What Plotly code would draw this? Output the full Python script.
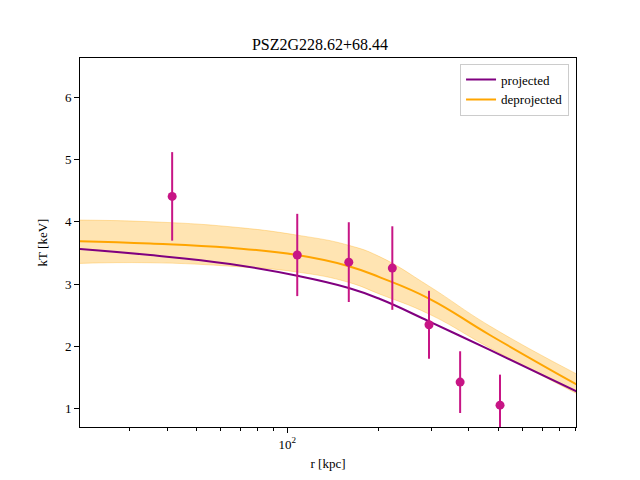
import plotly.graph_objects as go
import numpy as np

# model curves
r_model = [20.6, 35.2, 64.7, 108, 160, 203, 295, 469, 910]
T_proj = [3.564, 3.468, 3.324, 3.136, 2.94, 2.763, 2.405, 1.946, 1.28]
T_deproj = [3.692, 3.655, 3.585, 3.468, 3.29, 3.11, 2.77, 2.186, 1.39]
T_lo = [3.335, 3.345, 3.29, 3.196, 3.03, 2.84, 2.522, 1.978, 1.245]
T_hi = [4.03, 4.003, 3.923, 3.788, 3.625, 3.44, 2.97, 2.33, 1.56]

# observed data
r_obs = [41.6, 108, 160, 223, 295, 374, 507]
T_obs = [4.41, 3.47, 3.355, 3.26, 2.35, 1.43, 1.06]
T_err = [0.71, 0.66, 0.64, 0.67, 0.545, 0.495, 0.49]

title = "PSZ2G228.62+68.44"
font_family = "Liberation Serif, DejaVu Serif, serif"

fig = go.Figure()
fig.add_trace(go.Scatter(x=r_model, y=T_lo, mode="lines", line=dict(color="rgba(255,165,0,0.3)", width=1, shape="spline", smoothing=1.3),
                         showlegend=False, hoverinfo="skip"))
fig.add_trace(go.Scatter(x=r_model, y=T_hi, mode="lines", line=dict(color="rgba(255,165,0,0.3)", width=1, shape="spline", smoothing=1.3),
                         fill="tonexty", fillcolor="rgba(255,165,0,0.3)", showlegend=False, hoverinfo="skip"))
fig.add_trace(go.Scatter(x=r_model, y=T_proj, mode="lines", name="projected",
                         line=dict(color="purple", width=2, shape="spline", smoothing=1.3)))
fig.add_trace(go.Scatter(x=r_model, y=T_deproj, mode="lines", name="deprojected",
                         line=dict(color="orange", width=2, shape="spline", smoothing=1.3)))
fig.add_trace(go.Scatter(x=r_obs, y=T_obs, mode="markers", showlegend=False,
                         marker=dict(color="mediumvioletred", size=9),
                         error_y=dict(type="data", array=T_err, color="mediumvioletred", thickness=2, width=0)))

minor_vals = [30, 40, 50, 60, 70, 80, 90, 200, 300, 400, 500, 600, 700, 800, 900]

fig.update_layout(
    width=640, height=480,
    margin=dict(l=80, r=64, t=58, b=53),
    paper_bgcolor="white", plot_bgcolor="white",
    font=dict(family=font_family, size=13, color="black"),
    title=dict(text=title, x=0.5, xanchor="center", y=1 - 44 / 480, yanchor="middle",
               font=dict(size=16, family=font_family)),
    legend=dict(x=0.986, y=0.985, xanchor="right", yanchor="top", bgcolor="white",
                traceorder="normal", bordercolor="#cccccc", borderwidth=1, font=dict(size=13),
                itemwidth=30, tracegroupgap=0),
    xaxis=dict(type="log", range=[np.log10(20.6), np.log10(905)], showgrid=False, zeroline=False,
               showline=True, linecolor="black", linewidth=1, mirror=True,
               ticks="outside", ticklen=5, tickcolor="black", tickfont=dict(size=13),
               tickmode="array", tickvals=[100], ticktext=["10<sup>2</sup>"],
               minor=dict(tickmode="array", tickvals=minor_vals, ticks="outside", ticklen=3, tickcolor="black"),
               title=dict(text="r [kpc]", standoff=8, font=dict(size=13))),
    yaxis=dict(range=[0.71, 6.63], showgrid=False, zeroline=False,
               showline=True, linecolor="black", linewidth=1, mirror=True,
               ticks="outside", ticklen=5, tickcolor="black", tickfont=dict(size=13),
               tickmode="array", tickvals=[1, 2, 3, 4, 5, 6],
               title=dict(text="kT [keV]", standoff=14, font=dict(size=13))),
)

fig.write_html("out.html")
